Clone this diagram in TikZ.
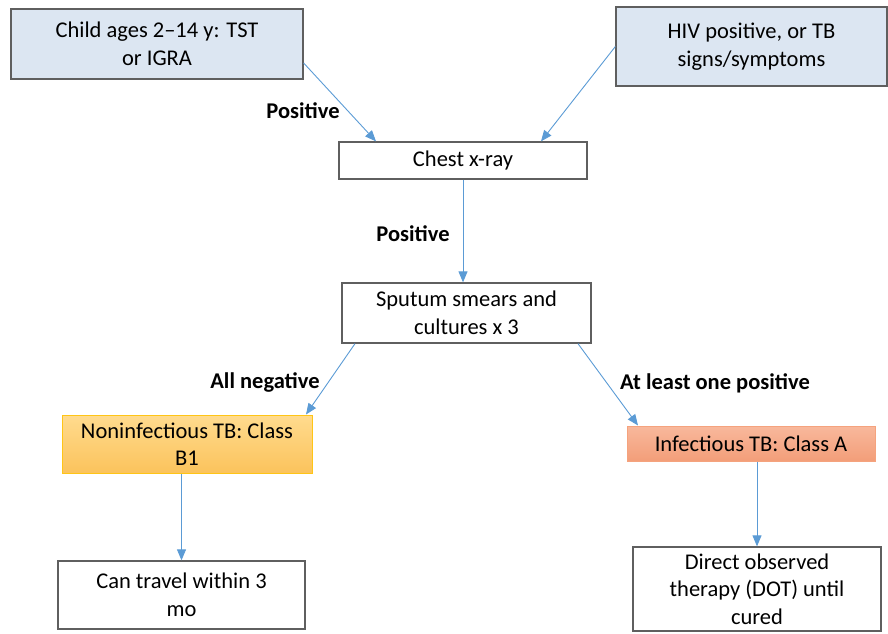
\documentclass[tikz,border=0pt]{standalone}
\usepackage{fontspec}
\setmainfont{Carlito}
\usetikzlibrary{arrows.meta}

\definecolor{lineblue}{HTML}{5B9BD5}
\definecolor{boxgray}{HTML}{5F5F5F}
\definecolor{lightblue}{HTML}{DCE6F2}
\definecolor{goldtop}{HTML}{FFDB8E}
\definecolor{goldbot}{HTML}{FBC35C}
\definecolor{goldline}{HTML}{FFC516}
\definecolor{salmontop}{HTML}{F8B89C}
\definecolor{salmonbot}{HTML}{F39E79}
\definecolor{salmonline}{HTML}{F5A37E}

\begin{document}
\begin{tikzpicture} [x=1pt, y=1pt,
  every node/.style={font=\fontsize{22.5}{27.5}\selectfont, align=center, inner sep=0pt},
  box/.style={draw=boxgray, line width=1.3pt, fill=white},
  bluebox/.style={box, fill=lightblue},
  link/.style={-{Triangle[length=11pt, width=9pt]}, lineblue, line width=0.9pt},
  tag/.style={font=\fontsize{22.5}{27.5}\selectfont\bfseries}]

\useasboundingbox (0,0) rectangle (888,-633);

\node [bluebox, minimum width=292, minimum height=70] (child) at (157,-44) {Child ages 2--14 y: TST\\or IGRA};
\node [bluebox, minimum width=271, minimum height=79] (hiv) at (751.5,-46.5) {HIV positive, or TB\\signs/symptoms};

\node [box, minimum width=248, minimum height=37] (xray) at (463,-160.5) {Chest x-ray};
\node [box, minimum width=249, minimum height=60] (sputum) at (466.5,-313) {Sputum smears and\\cultures x 3};

\node [draw=goldline, line width=1pt, top color=goldtop, bottom color=goldbot,
  minimum width=250, minimum height=58] (noninf) at (187,-444) {Noninfectious TB: Class\\B1};
\node [draw=salmonline, line width=1pt, top color=salmontop, bottom color=salmonbot,
  minimum width=248, minimum height=35] (inf) at (751,-443.5) {Infectious TB: Class A};

\node [box, minimum width=247, minimum height=68] (travel) at (181.5,-595) {Can travel within 3\\mo};
\node [box, minimum width=248, minimum height=84] (therapy) at (757,-589) {Direct observed\\therapy (DOT) until\\cured};

\draw [link] ([yshift=-19]child.east) -- ([xshift=-87]xray.north);
\draw [link] (hiv.west) -- ([xshift=78]xray.north);
\draw [link] (xray.south) -- (xray.south |- sputum.north);
\draw [link] ([xshift=-111.5]sputum.south) -- ([xshift=119]noninf.north);
\draw [link] ([xshift=111.5]sputum.south) -- ([xshift=-113]inf.north);
\draw [link] (travel.north |- noninf.south) -- (travel.north);
\draw [link] (therapy.north |- inf.south) -- (therapy.north);

\node [tag] (pos1) at (303,-111) {Positive};
\node [tag] (pos2) at (413,-234) {Positive};
\node [tag] (neg) at (265,-382) {All negative};
\node [tag] (onepos) at (715,-383) {At least one positive};

\end{tikzpicture}
\end{document}
